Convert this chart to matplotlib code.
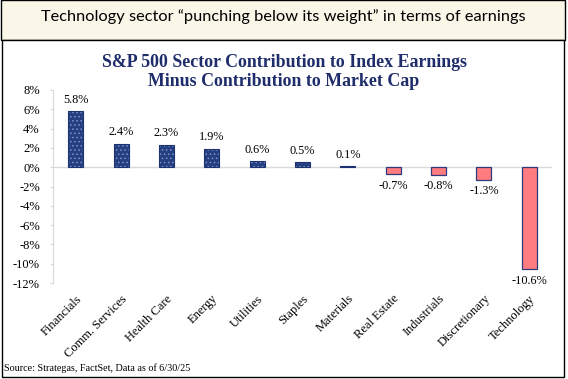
import matplotlib
matplotlib.use("Agg")
import matplotlib.pyplot as plt
from matplotlib.patches import Rectangle
import numpy as np

header = "Technology sector \u201cpunching below its weight\u201d in terms of earnings"
title = "S&P 500 Sector Contribution to Index Earnings\nMinus Contribution to Market Cap"
source = "Source: Strategas, FactSet, Data as of 6/30/25"
categories = ["Financials", "Comm. Services", "Health Care", "Energy", "Utilities",
              "Staples", "Materials", "Real Estate", "Industrials", "Discretionary", "Technology"]
values = [5.8, 2.4, 2.3, 1.9, 0.6, 0.5, 0.1, -0.7, -0.8, -1.3, -10.6]
yticks = [8, 6, 4, 2, 0, -2, -4, -6, -8, -10, -12]

W, H = 568, 379
fig = plt.figure(figsize=(W / 100, H / 100), dpi=100)
fig.patch.set_facecolor("white")

def fx(px):
    return px / W

def fy(py):
    return 1 - py / H

# header band
fig.patches.append(Rectangle((fx(1), fy(40)), fx(565) - fx(1), fy(0.5) - fy(40),
                             transform=fig.transFigure, facecolor="#faf6e8",
                             edgecolor="black", linewidth=1.0, zorder=-5))
# chart frame
fig.patches.append(Rectangle((fx(1.5), fy(376.5)), fx(564) - fx(1.5), fy(40) - fy(376.5),
                             transform=fig.transFigure, facecolor="white",
                             edgecolor="black", linewidth=1.0, zorder=-5))

fig.text(fx(283.5), fy(17), header, ha="center", va="center", fontsize=11.8,
         family="Lato", color="black")
fig.text(fx(284), fy(72), title, ha="center", va="center", fontsize=12.9,
         family="Liberation Serif", fontweight="bold", color="#1f2d6b",
         linespacing=1.22)
fig.text(fx(4), fy(368), source, ha="left", va="center", fontsize=7.3,
         family="Liberation Serif", color="black")

ax = fig.add_axes([fx(53), fy(283), fx(552) - fx(53), fy(90) - fy(283)])
ax.set_facecolor("none")
x = np.arange(len(categories))
vals = np.array(values)
pos = vals >= 0
navy = "#243f82"
plt.rcParams["hatch.linewidth"] = 0.6
ax.bar(x[pos], vals[pos], width=0.33, color=navy, edgecolor="#7f93c4",
       hatch="....", linewidth=0, zorder=3)
ax.bar(x[pos], vals[pos], width=0.33, fill=False, edgecolor="#1d3270",
       linewidth=0.8, zorder=4)
ax.bar(x[~pos], vals[~pos], width=0.33, color="#ff7c80", edgecolor="#2f3a7c",
       linewidth=0.9, zorder=3)

for xi, v in zip(x, vals):
    if v >= 0:
        ax.annotate(f"{v:.1f}%", (xi, v), xytext=(0, 4), textcoords="offset points",
                    ha="center", va="bottom", fontsize=8.8, family="Liberation Serif")
    else:
        ax.annotate(f"{v:.1f}%", (xi, v), xytext=(0, -4), textcoords="offset points",
                    ha="center", va="top", fontsize=8.8, family="Liberation Serif")

ax.set_xlim(-0.5, len(categories) - 0.5)
ax.set_ylim(-12, 8)
ax.set_yticks(yticks)
ax.set_yticklabels([f"{t}%" for t in yticks], family="Liberation Serif", fontsize=9)
ax.axhline(0, color="#d9d9d9", linewidth=1.0, zorder=2)
for s in ["top", "right", "bottom"]:
    ax.spines[s].set_visible(False)
ax.spines["left"].set_color("#d9d9d9")
ax.tick_params(axis="y", length=2.5, color="#d9d9d9", pad=7)
ax.set_xticks(x)
ax.set_xticklabels(categories, rotation=45, ha="right", rotation_mode="anchor",
                   family="Liberation Serif", fontsize=9)
ax.tick_params(axis="x", length=0, pad=7)

fig.savefig("out.png", dpi=100)
